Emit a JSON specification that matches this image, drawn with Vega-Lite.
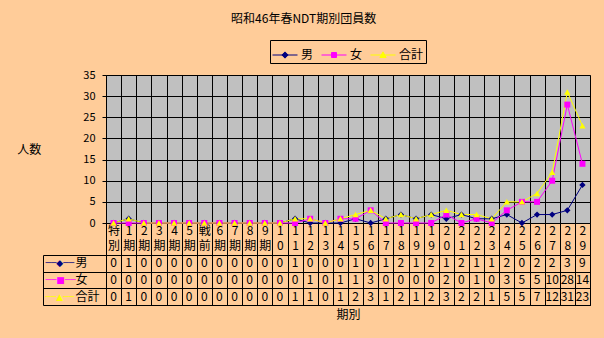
{
  "$schema": "https://vega.github.io/schema/vega-lite/v6.json",
  "background": "#FFCC99",
  "padding": {"left": 16, "top": 12, "right": 16, "bottom": 20},
  "title": {"text": "昭和46年春NDT期別団員数", "anchor": "middle", "fontSize": 12, "fontWeight": "normal", "font": "Noto Sans CJK JP", "color": "black", "offset": 14},
  "data": {"values": [
    {"期別": "特別", "男": 0, "女": 0, "合計": 0},
    {"期別": "1期", "男": 1, "女": 0, "合計": 1},
    {"期別": "2期", "男": 0, "女": 0, "合計": 0},
    {"期別": "3期", "男": 0, "女": 0, "合計": 0},
    {"期別": "4期", "男": 0, "女": 0, "合計": 0},
    {"期別": "5期", "男": 0, "女": 0, "合計": 0},
    {"期別": "戦前", "男": 0, "女": 0, "合計": 0},
    {"期別": "6期", "男": 0, "女": 0, "合計": 0},
    {"期別": "7期", "男": 0, "女": 0, "合計": 0},
    {"期別": "8期", "男": 0, "女": 0, "合計": 0},
    {"期別": "9期", "男": 0, "女": 0, "合計": 0},
    {"期別": "10", "男": 0, "女": 0, "合計": 0},
    {"期別": "11", "男": 1, "女": 0, "合計": 1},
    {"期別": "12", "男": 0, "女": 1, "合計": 1},
    {"期別": "13", "男": 0, "女": 0, "合計": 0},
    {"期別": "14", "男": 0, "女": 1, "合計": 1},
    {"期別": "15", "男": 1, "女": 1, "合計": 2},
    {"期別": "16", "男": 0, "女": 3, "合計": 3},
    {"期別": "17", "男": 1, "女": 0, "合計": 1},
    {"期別": "18", "男": 2, "女": 0, "合計": 2},
    {"期別": "19", "男": 1, "女": 0, "合計": 1},
    {"期別": "19 ", "男": 2, "女": 0, "合計": 2},
    {"期別": "20", "男": 1, "女": 2, "合計": 3},
    {"期別": "21", "男": 2, "女": 0, "合計": 2},
    {"期別": "22", "男": 1, "女": 1, "合計": 2},
    {"期別": "23", "男": 1, "女": 0, "合計": 1},
    {"期別": "24", "男": 2, "女": 3, "合計": 5},
    {"期別": "25", "男": 0, "女": 5, "合計": 5},
    {"期別": "26", "男": 2, "女": 5, "合計": 7},
    {"期別": "27", "男": 2, "女": 10, "合計": 12},
    {"期別": "28", "男": 3, "女": 28, "合計": 31},
    {"期別": "29", "男": 9, "女": 14, "合計": 23}
  ]},
  "transform": [{"fold": ["男", "女", "合計"], "as": ["series", "value"]}],
  "config": {
    "font": "Noto Sans CJK JP",
    "axis": {"labelFont": "Noto Sans CJK JP", "titleFont": "Noto Sans CJK JP", "labelColor": "black", "titleColor": "black", "titleFontWeight": "normal"},
    "legend": {"labelFont": "Noto Sans CJK JP", "labelColor": "black"}
  },
  "spacing": 32,
  "bounds": "flush",
  "vconcat": [
    {
      "width": 484,
      "height": 148,
      "view": {"fill": "#C0C0C0", "stroke": "#808080"},
      "encoding": {
        "x": {"field": "期別", "type": "ordinal", "sort": null,
          "scale": {"paddingInner": 0, "paddingOuter": 0},
          "axis": {"title": null, "grid": true, "gridColor": "black", "gridOpacity": 1, "gridWidth": 1,
            "tickBand": "extent", "tickSize": 32, "tickColor": "black", "domainColor": "black",
            "labelAngle": 0, "labelPadding": -30, "labelBaseline": "top", "labelAlign": "center",
            "labelExpr": "split(trim(datum.label), '')", "labelLineHeight": 15, "labelFontSize": 12}},
        "y": {"field": "value", "type": "quantitative",
          "scale": {"domain": [0, 35]},
          "axis": {"values": [0, 5, 10, 15, 20, 25, 30, 35], "title": "人数", "titleAngle": 0,
            "titleAlign": "right", "titleBaseline": "middle", "titlePadding": 42, "titleFontSize": 12,
            "grid": true, "gridColor": "black", "gridOpacity": 1, "tickSize": 4, "tickColor": "black",
            "domainColor": "black", "labelPadding": 7, "labelFontSize": 11}},
        "color": {"field": "series", "type": "nominal",
          "scale": {"domain": ["男", "女", "合計"], "range": ["#000080", "#FF00FF", "#FFFF00"]},
          "legend": {"title": null, "orient": "none", "legendX": 164, "legendY": -35, "direction": "horizontal",
            "strokeColor": "black", "padding": 2, "labelFontSize": 12, "symbolSize": 625,
            "columnPadding": 5, "labelOffset": 3, "symbolStrokeWidth": 1,
            "encode": {"symbols": {"update": {
              "shape": {"signal": "datum.value === '男' ? 'M-1,0L1,0M0,-0.25L0.25,0L0,0.25L-0.25,0Z' : (datum.value === '女' ? 'M-1,0L1,0M-0.2,-0.2L0.2,-0.2L0.2,0.2L-0.2,0.2Z' : 'M-1,0L1,0M0,-0.25L0.25,0.2L-0.25,0.2Z')"},
              "stroke": {"signal": "scale('color', datum.value)"},
              "fill": {"signal": "scale('color', datum.value)"},
              "strokeWidth": {"value": 1},
              "opacity": {"value": 1}
            }}}}
        }
      },
      "layer": [
        {"mark": {"type": "line", "strokeWidth": 1}, "encoding": {"order": {"value": null}}},
        {"transform": [{"filter": "datum.series === '男'"}],
          "mark": {"type": "point", "filled": true, "size": 40, "opacity": 1, "shape": "diamond"}},
        {"transform": [{"filter": "datum.series === '女'"}],
          "mark": {"type": "point", "filled": true, "size": 36, "opacity": 1, "shape": "square"}},
        {"transform": [{"filter": "datum.series === '合計'"}],
          "mark": {"type": "point", "filled": true, "size": 40, "opacity": 1, "shape": "triangle-up"}}
      ]
    },
    {
      "width": 484,
      "height": 50,
      "view": {"stroke": "black", "fill": null},
      "layer": [
        {
          "mark": {"type": "text", "fontSize": 12, "color": "black"},
          "encoding": {
            "x": {"field": "期別", "type": "ordinal", "sort": null,
              "scale": {"paddingInner": 0, "paddingOuter": 0},
              "axis": {"title": "期別", "titleFontSize": 12, "titlePadding": 4, "labels": false, "ticks": false, "domain": false,
                "grid": true, "gridColor": "black", "gridOpacity": 1, "tickBand": "extent"}},
            "y": {"field": "series", "type": "nominal", "sort": ["男", "女", "合計"],
              "scale": {"paddingInner": 0, "paddingOuter": 0},
              "axis": {"title": null, "grid": true, "gridColor": "black", "gridOpacity": 1, "tickBand": "extent",
                "tickSize": 63, "tickColor": "black", "domain": false, "labels": false}},
            "text": {"field": "value", "type": "quantitative"}
          }
        },
        {
          "mark": {"type": "text", "opacity": 0},
          "encoding": {
            "y": {"field": "series", "type": "nominal", "sort": ["男", "女", "合計"],
              "axis": {"title": null, "orient": "left", "offset": 63, "domain": true, "domainColor": "black",
                "ticks": false, "tickSize": 0, "grid": false, "labelAlign": "left", "labelBaseline": "middle", "labelPadding": -32,
                "labelFontSize": 12, "labelColor": "black"}},
            "text": {"field": "value", "type": "quantitative"}
          }
        },
        {
          "mark": {"type": "text", "opacity": 0},
          "encoding": {
            "y": {"field": "series", "type": "nominal", "sort": ["男", "女", "合計"],
              "axis": {"title": null, "orient": "left", "offset": 63, "domain": false,
                "ticks": false, "tickSize": 0, "grid": false, "labelAlign": "left", "labelBaseline": "middle", "labelPadding": -2,
                "labelFont": "DejaVu Sans", "labelFontSize": 9,
                "labelExpr": "datum.label === '男' ? '──◆──' : (datum.label === '女' ? '──■──' : '──▲──')",
                "labelColor": {"condition": [{"test": "datum.value === '男'", "value": "#000080"}, {"test": "datum.value === '女'", "value": "#FF00FF"}], "value": "#FFFF00"}}},
            "text": {"field": "value", "type": "quantitative"}
          }
        }
      ],
      "resolve": {"axis": {"y": "independent"}}
    }
  ]
}
